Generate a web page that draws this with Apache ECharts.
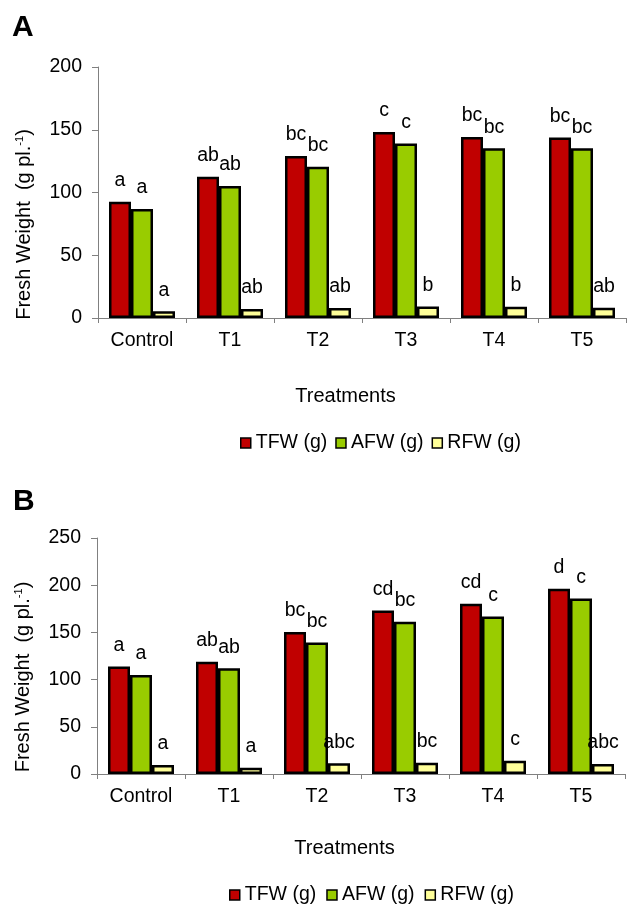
<!DOCTYPE html>
<html>
<head>
<meta charset="utf-8">
<script src="https://cdn.jsdelivr.net/npm/echarts@6/dist/echarts.min.js"></script>
<style>
  html, body { margin: 0; padding: 0; background: #fff; }
  #main { width: 627px; height: 908px; }
</style>
</head>
<body>
<div id="main"></div>
<script>
// treatments
var categories = ['Control', 'T1', 'T2', 'T3', 'T4', 'T5'];
var seriesNames = ['TFW (g)', 'AFW (g)', 'RFW (g)'];

// panel A
var tfwA = [92.7, 112.5, 129, 148.3, 144.3, 143.8];
var afwA = [86.9, 105.1, 120.5, 139, 135.3, 135.3];
var rfwA = [5.3, 7.2, 8, 9.2, 9, 8.2];
var tfwA_letters = ['a', 'ab', 'bc', 'c', 'bc', 'bc'];
var afwA_letters = ['a', 'ab', 'bc', 'c', 'bc', 'bc'];
var rfwA_letters = ['a', 'ab', 'ab', 'b', 'b', 'ab'];

// panel B
var tfwB = [113.8, 118.8, 150.3, 173.3, 180.3, 196.2];
var afwB = [105, 112, 139.3, 161.2, 166.9, 186];
var rfwB = [9.5, 6.7, 11.3, 12, 14.1, 10.6];
var tfwB_letters = ['a', 'ab', 'bc', 'cd', 'cd', 'd'];
var afwB_letters = ['a', 'ab', 'bc', 'bc', 'c', 'c'];
var rfwB_letters = ['a', 'a', 'abc', 'bc', 'c', 'abc'];

var yTicksA = [0, 50, 100, 150, 200];
var yTicksB = [0, 50, 100, 150, 200, 250];

var colors = ['#C00000', '#99CC00', '#FFFF99'];
var font = 'Liberation Sans, Arial, sans-serif';

function xAxisCfg(gridIndex, gap) {
    return {
        type: 'category',
        gridIndex: gridIndex,
        data: categories,
        name: 'Treatments',
        nameLocation: 'middle',
        nameGap: gap,
        nameTextStyle: { fontSize: 20, color: '#000', padding: [0, 33, 0, 0] },
        axisLine: { lineStyle: { color: '#808080', width: 1 } },
        axisTick: { show: true, length: 5, alignWithLabel: false, lineStyle: { color: '#808080' } },
        axisLabel: { fontSize: 19.5, color: '#000', margin: 13 }
    };
}

function yAxisCfg(gridIndex, ticks, shift) {
    return {
        type: 'value',
        gridIndex: gridIndex,
        min: ticks[0],
        max: ticks[ticks.length - 1],
        interval: ticks[1] - ticks[0],
        name: 'Fresh Weight  (g pl.{sup|-1})',
        nameLocation: 'middle',
        nameRotate: 90,
        nameGap: 64,
        nameTextStyle: {
            fontSize: 20,
            color: '#000',
            padding: [0, shift, 0, 0],
            rich: {
                sup: { fontSize: 11, color: '#000', verticalAlign: 'top', padding: [0, 0, 8, 0] }
            }
        },
        splitLine: { show: false },
        axisLine: { show: true, lineStyle: { color: '#808080', width: 1 } },
        axisTick: { show: true, length: 6, lineStyle: { color: '#808080' } },
        axisLabel: { fontSize: 19.5, color: '#000', margin: 16 }
    };
}

function barSeries(name, idx, data, letters, color) {
    return {
        name: name,
        type: 'bar',
        xAxisIndex: idx,
        yAxisIndex: idx,
        data: data,
        barGap: '0%',
        barCategoryGap: '25%',
        itemStyle: { color: color, borderColor: '#000', borderWidth: 2.5 },
        label: {
            show: true,
            position: 'top',
            distance: 11,
            fontSize: 19.5,
            color: '#000',
            formatter: function (p) { return letters[p.dataIndex]; }
        }
    };
}

var myChart = echarts.init(document.getElementById('main'));

var option = {
    animation: false,
    textStyle: { fontFamily: font },
    color: colors,
    grid: [
        { left: 98, top: 67, width: 528, height: 251 },
        { left: 97, top: 538, width: 528, height: 236 }
    ],
    xAxis: [xAxisCfg(0, 68), xAxisCfg(1, 64)],
    yAxis: [yAxisCfg(0, yTicksA, 64), yAxisCfg(1, yTicksB, 42)],
    legend: [
        {
            data: seriesNames, left: 240, top: 433, padding: 0, itemWidth: 10, itemHeight: 10, itemGap: 8,
            icon: 'rect', textStyle: { fontSize: 19.5, color: '#000' },
            itemStyle: { borderColor: '#000', borderWidth: 1.5 }
        },
        {
            data: seriesNames, left: 229, top: 885, padding: 0, itemWidth: 10, itemHeight: 10, itemGap: 10,
            icon: 'rect', textStyle: { fontSize: 19.5, color: '#000' },
            itemStyle: { borderColor: '#000', borderWidth: 1.5 }
        }
    ],
    graphic: [
        { type: 'text', left: 12, top: 13, style: { text: 'A', fontSize: 30, fontWeight: 'bold', fill: '#000', fontFamily: font } },
        { type: 'text', left: 13, top: 487, style: { text: 'B', fontSize: 30, fontWeight: 'bold', fill: '#000', fontFamily: font } }
    ],
    series: [
        barSeries(seriesNames[0], 0, tfwA, tfwA_letters, colors[0]),
        barSeries(seriesNames[1], 0, afwA, afwA_letters, colors[1]),
        barSeries(seriesNames[2], 0, rfwA, rfwA_letters, colors[2]),
        barSeries(seriesNames[0], 1, tfwB, tfwB_letters, colors[0]),
        barSeries(seriesNames[1], 1, afwB, afwB_letters, colors[1]),
        barSeries(seriesNames[2], 1, rfwB, rfwB_letters, colors[2])
    ]
};

myChart.setOption(option);
</script>
</body>
</html>
